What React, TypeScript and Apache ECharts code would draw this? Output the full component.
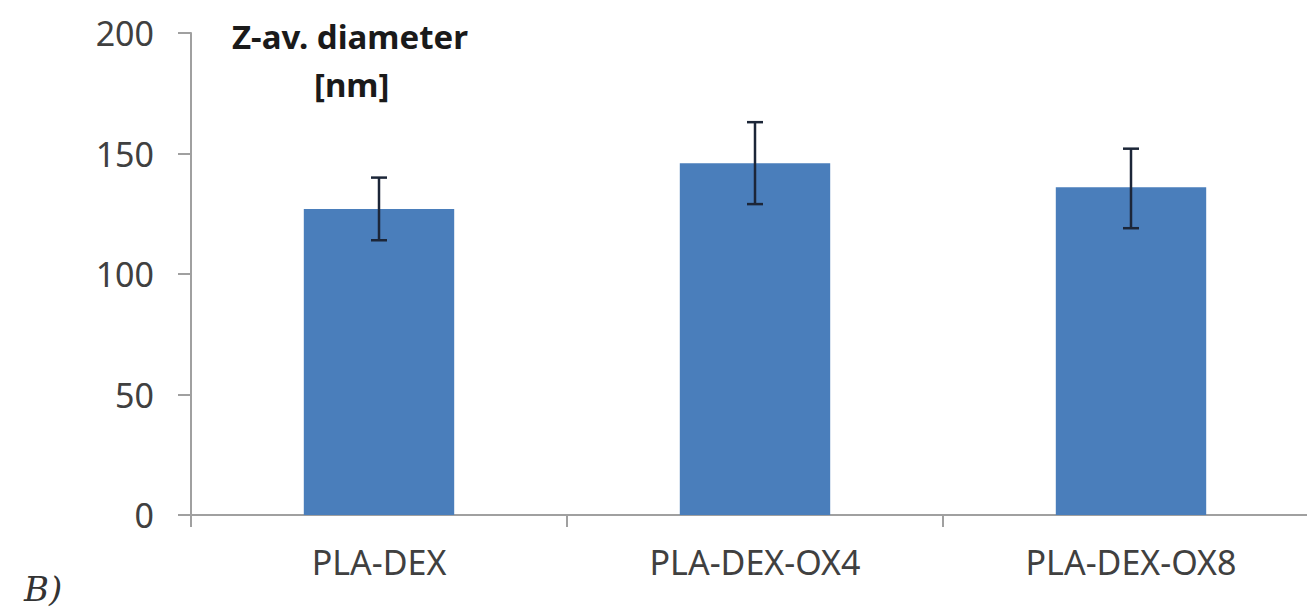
import React, { useEffect, useRef } from "react";
import * as echarts from "echarts";

const categories = ["PLA-DEX", "PLA-DEX-OX4", "PLA-DEX-OX8"];
const meanDiameter = [127, 146, 136];
const errLow = [114, 129, 119];
const errHigh = [140, 163, 152];
const yTicks = { min: 0, max: 200, interval: 50 };
const titleLines = ["Z-av. diameter", "[nm]"];
const panelLabel = "B)";

export default function App() {
  const ref = useRef<HTMLDivElement>(null);
  useEffect(() => {
    document.body.style.margin = "0";
    const chart = echarts.init(ref.current!, undefined, { renderer: "svg" });
    const errData = categories.map((_, i) => [i, errLow[i], errHigh[i]]);
    const axisColor = "#a0a0a0";
    const font = "'Noto Sans', 'Open Sans', sans-serif";
    chart.setOption({
      animation: false,
      backgroundColor: "#ffffff",
      grid: { left: 191, right: -12, top: 33, bottom: 98, outerBoundsMode: "none", containLabel: false },
      xAxis: {
        type: "category",
        data: categories,
        axisLine: { show: true, lineStyle: { color: axisColor, width: 2 } },
        axisTick: { show: true, length: 12, lineStyle: { color: axisColor, width: 2 } },
        axisLabel: { color: "#404040", fontSize: 34, fontFamily: font, margin: 30 },
        splitLine: { show: false },
      },
      yAxis: {
        type: "value",
        min: yTicks.min,
        max: yTicks.max,
        interval: yTicks.interval,
        axisLine: { show: true, lineStyle: { color: axisColor, width: 2 } },
        axisTick: { show: true, length: 13, inside: false, lineStyle: { color: axisColor, width: 2 } },
        axisLabel: { color: "#404040", fontSize: 34, fontFamily: font, margin: 37 },
        splitLine: { show: false },
      },
      series: [
        {
          type: "bar",
          data: meanDiameter,
          barWidth: "40%",
          itemStyle: { color: "#4a7ebb" },
          z: 2,
        },
        {
          type: "custom",
          data: errData,
          z: 5,
          encode: { x: 0, y: [1, 2] },
          renderItem: (params: any, api: any) => {
            const idx = api.value(0);
            const lo = api.coord([idx, api.value(1)]);
            const hi = api.coord([idx, api.value(2)]);
            const hw = 8;
            const style = { stroke: "#1c2638", lineWidth: 2.5 };
            return {
              type: "group",
              children: [
                { type: "line", shape: { x1: hi[0], y1: hi[1], x2: lo[0], y2: lo[1] }, style },
                { type: "line", shape: { x1: hi[0] - hw, y1: hi[1], x2: hi[0] + hw, y2: hi[1] }, style },
                { type: "line", shape: { x1: lo[0] - hw, y1: lo[1], x2: lo[0] + hw, y2: lo[1] }, style },
              ],
            };
          },
        },
      ],
      graphic: [
        {
          type: "text",
          left: 232,
          top: 20,
          style: { text: titleLines[0], font: `bold 33px ${font}`, fill: "#1a1a1a" },
        },
        {
          type: "text",
          left: 314,
          top: 68,
          style: { text: titleLines[1], font: `bold 33px ${font}`, fill: "#1a1a1a" },
        },
        {
          type: "text",
          left: 24,
          top: 572,
          style: { text: panelLabel, font: `italic 34px 'DejaVu Serif', 'Liberation Serif', serif`, fill: "#333" },
        },
      ],
    });
    return () => chart.dispose();
  }, []);
  return <div ref={ref} style={{ width: 1307, height: 613 }} />;
}
